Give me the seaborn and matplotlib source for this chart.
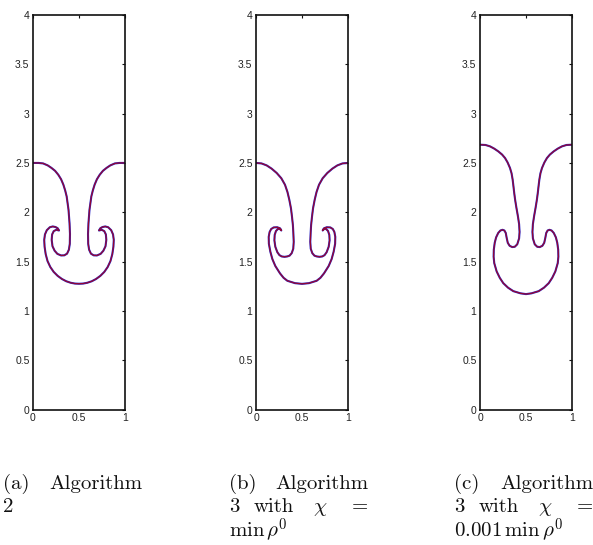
import matplotlib
matplotlib.use("Agg")
import matplotlib.pyplot as plt
import seaborn as sns
import pandas as pd

# ---- data (left half of each interface; right half is its mirror x -> 1-x)
A_x = [0.00, 0.06, 0.11, 0.16, 0.20, 0.24, 0.275, 0.305, 0.33, 0.35, 0.366, 0.386, 0.397,
       0.402, 0.400, 0.390, 0.370, 0.340, 0.305, 0.265, 0.235, 0.212, 0.203, 0.208, 0.225,
       0.252, 0.283, 0.268, 0.245, 0.215, 0.183, 0.150, 0.130, 0.122, 0.126, 0.138, 0.158,
       0.188, 0.225, 0.268, 0.315, 0.362, 0.410, 0.455, 0.50]
A_y = [2.50, 2.500, 2.495, 2.475, 2.45, 2.42, 2.38, 2.335, 2.28, 2.22, 2.16, 2.025, 1.89,
       1.78, 1.68, 1.62, 1.580, 1.563, 1.562, 1.578, 1.610, 1.655, 1.720, 1.775, 1.808,
       1.822, 1.815, 1.838, 1.850, 1.856, 1.848, 1.818, 1.775, 1.720, 1.650, 1.575, 1.505,
       1.445, 1.395, 1.355, 1.323, 1.300, 1.285, 1.277, 1.275]

B_x = [0.00, 0.06, 0.116, 0.17, 0.225, 0.275, 0.315, 0.342, 0.362, 0.380, 0.391, 0.401,
       0.406, 0.410, 0.405, 0.388, 0.365, 0.34, 0.310, 0.279, 0.255, 0.232, 0.210, 0.200,
       0.203, 0.217, 0.240, 0.265, 0.275, 0.260, 0.230, 0.192, 0.165, 0.148, 0.138, 0.140,
       0.156, 0.178, 0.210, 0.261, 0.300, 0.341, 0.424, 0.50]
B_y = [2.50, 2.495, 2.475, 2.442, 2.398, 2.345, 2.279, 2.205, 2.127, 2.04, 1.957, 1.87,
       1.789, 1.700, 1.630, 1.585, 1.560, 1.552, 1.548, 1.552, 1.565, 1.595, 1.650, 1.715,
       1.770, 1.810, 1.832, 1.828, 1.815, 1.838, 1.848, 1.846, 1.830, 1.800, 1.750, 1.680,
       1.600, 1.525, 1.455, 1.380, 1.335, 1.305, 1.281, 1.274]

C_x = [0.00, 0.06, 0.109, 0.155, 0.199, 0.240, 0.272, 0.300, 0.326, 0.343, 0.355, 0.364,
       0.372, 0.382, 0.395, 0.412, 0.425, 0.430, 0.425, 0.405, 0.378, 0.350, 0.322, 0.302,
       0.290, 0.280, 0.265, 0.245, 0.222, 0.198, 0.175, 0.160, 0.150, 0.148, 0.155, 0.181,
       0.215, 0.253, 0.305, 0.362, 0.44, 0.50]
C_y = [2.685, 2.682, 2.668, 2.645, 2.617, 2.585, 2.55, 2.505, 2.449, 2.395, 2.33, 2.26,
       2.195, 2.125, 2.05, 1.96, 1.88, 1.80, 1.735, 1.675, 1.650, 1.647, 1.660, 1.690,
       1.740, 1.790, 1.815, 1.822, 1.815, 1.790, 1.745, 1.690, 1.620, 1.550, 1.484, 1.400,
       1.335, 1.281, 1.235, 1.200, 1.178, 1.170]

x_ticks = [0, 0.5, 1]
x_tick_labels = ["0", "0.5", "1"]
y_ticks = [0, 0.5, 1, 1.5, 2, 2.5, 3, 3.5, 4]
y_tick_labels = ["0", "0.5", "1", "1.5", "2", "2.5", "3", "3.5", "4"]

captions = [
    [["(a)", "Algorithm"], ["2"]],
    [["(b)", "Algorithm"], ["3", "with", r"$\chi$", "="], [r"$\min\,\rho^0$"]],
    [["(c)", "Algorithm"], ["3", "with", r"$\chi$", "="], [r"$0.001\,\min\,\rho^0$"]],
]


def full_curve(hx, hy):
    xs = list(hx) + [1 - v for v in reversed(hx[:-1])]
    ys = list(hy) + list(reversed(hy[:-1]))
    return pd.DataFrame({"x": xs, "y": ys})


sns.set_style("white")
plt.rcParams["font.family"] = ["Liberation Sans", "DejaVu Sans"]
plt.rcParams["mathtext.fontset"] = "cm"

W, H = 593, 545
fig = plt.figure(figsize=(W / 100, H / 100), dpi=100)

ax_lefts = [33, 256, 480]
ax_w, ax_top, ax_bot = 92, 15, 409.5
series = [(A_x, A_y), (B_x, B_y), (C_x, C_y)]

for left, (hx, hy) in zip(ax_lefts, series):
    ax = fig.add_axes([left / W, (H - ax_bot) / H, ax_w / W, (ax_bot - ax_top) / H])
    df = full_curve(hx, hy)
    sns.lineplot(data=df, x="x", y="y", sort=False, estimator=None, ax=ax,
                 color="#2828c8", lw=1.5, solid_joinstyle="round", solid_capstyle="round")
    sns.lineplot(data=df, x="x", y="y", sort=False, estimator=None, ax=ax,
                 color="#a80018", lw=0.9, alpha=0.85, solid_joinstyle="round")
    ax.set_xlim(0, 1)
    ax.set_ylim(0, 4)
    ax.set_xticks(x_ticks)
    ax.set_xticklabels(x_tick_labels)
    ax.set_yticks(y_ticks)
    ax.set_yticklabels(y_tick_labels)
    ax.set_xlabel("")
    ax.set_ylabel("")
    ax.tick_params(direction="in", length=2.3, width=0.8, top=True, right=True,
                   labelsize=7.5, pad=2.5, labelcolor="#222222", color="#111111")
    for s in ax.spines.values():
        s.set_visible(True)
        s.set_linewidth(1.2)
        s.set_color("#111111")

cap_lefts = [3, 229, 454]
cap_w = 139
baselines = [489, 512, 537]
cap_fs = 15
for cl, lines in zip(cap_lefts, captions):
    for li, words in enumerate(lines):
        yb = 1 - baselines[li] / H
        kw = dict(fontsize=cap_fs, va="baseline", family="cmr10", color="#111111")
        if li == 0:
            fig.text(cl / W, yb, words[0], ha="left", **kw)
            fig.text((cl + cap_w) / W, yb, words[1], ha="right", **kw)
        elif len(words) == 4:
            offs = [0, 25, 84]
            for o, wd in zip(offs, words[:3]):
                fig.text((cl + o) / W, yb, wd, ha="left", **kw)
            fig.text((cl + cap_w) / W, yb, words[3], ha="right", **kw)
        else:
            fig.text(cl / W, yb, words[0], ha="left", **kw)

fig.savefig("out.png", dpi=100)
